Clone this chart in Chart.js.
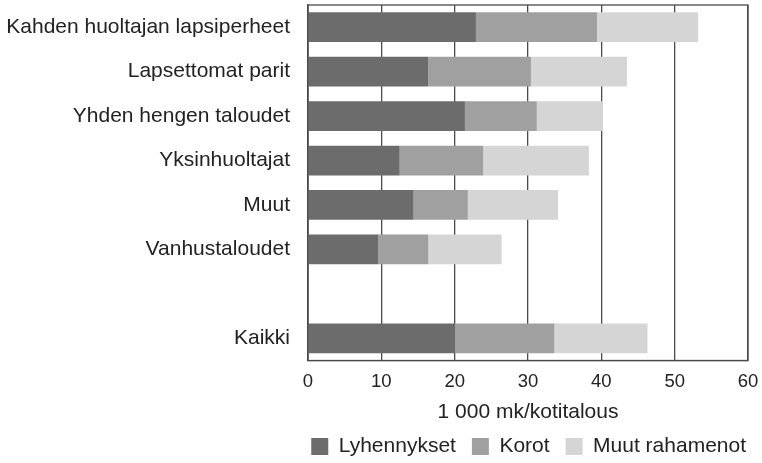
<!DOCTYPE html>
<html>
<head>
<meta charset="utf-8">
<style>
  html, body { margin: 0; padding: 0; background: #ffffff; }
  #wrap { width: 762px; height: 463px; }
</style>
<script src="https://cdn.jsdelivr.net/npm/chart.js@4/dist/chart.umd.min.js"></script>
</head>
<body>
<div id="wrap"><canvas id="c" width="762" height="463"></canvas></div>
<script>
const categories = ["Kahden huoltajan lapsiperheet", "Lapsettomat parit", "Yhden hengen taloudet", "Yksinhuoltajat", "Muut", "Vanhustaloudet", "", "Kaikki"];
const lyhennykset = [22.9, 16.4, 21.4, 12.5, 14.4, 9.6, null, 20.0];
const korot = [16.5, 14.0, 9.8, 11.4, 7.4, 6.8, null, 13.6];
const muutRahamenot = [13.8, 13.1, 9.0, 14.4, 12.3, 10.0, null, 12.7];
const seriesNames = ["Lyhennykset", "Korot", "Muut rahamenot"];
const xTicks = [0, 10, 20, 30, 40, 50, 60];
const axisTitle = "1 000 mk/kotitalous";

const FONT = "'Liberation Sans', Arial, Helvetica, sans-serif";
const TEXT = "#222222";
const GRID = "#4a4a4a";

const frame = {
  id: "frame",
  afterDatasetsDraw(chart) {
    const a = chart.chartArea, ctx = chart.ctx;
    ctx.save();
    ctx.strokeStyle = GRID;
    ctx.lineWidth = 1.3;
    ctx.strokeRect(a.left, a.top, a.right - a.left, a.bottom - a.top);
    ctx.restore();
  }
};

new Chart(document.getElementById("c"), {
  type: "bar",
  data: {
    labels: categories,
    datasets: [
      { label: seriesNames[0], data: lyhennykset, backgroundColor: "#6c6c6c" },
      { label: seriesNames[1], data: korot, backgroundColor: "#a0a0a0" },
      { label: seriesNames[2], data: muutRahamenot, backgroundColor: "#d5d5d5" }
    ]
  },
  options: {
    indexAxis: "y",
    responsive: false,
    animation: false,
    devicePixelRatio: 1,
    categoryPercentage: 1,
    barPercentage: 0.67,
    layout: { padding: { top: 5, right: 0, left: 0, bottom: -4 } },
    scales: {
      x: {
        stacked: true,
        min: 0, max: 60,
        afterBuildTicks(axis) { axis.ticks = xTicks.map(v => ({ value: v })); },
        afterFit(axis) { axis.height = 59.5; axis.paddingLeft = 0; axis.paddingRight = 14; },
        grid: { display: true, color: GRID, lineWidth: 1.3, drawTicks: false },
        border: { display: true, color: GRID, width: 1.3 },
        ticks: { padding: 10, color: TEXT, font: { family: FONT, size: 18.5 } },
        title: { display: true, text: axisTitle, color: TEXT, font: { family: FONT, size: 21 }, padding: { top: 0, bottom: -5 } }
      },
      y: {
        stacked: true,
        grid: { display: false },
        border: { display: true, color: GRID, width: 1.3 },
        ticks: { padding: 10, color: TEXT, font: { family: FONT, size: 21 }, autoSkip: false },
        afterFit(axis) { axis.width = 308; axis.paddingTop = 0; axis.paddingBottom = 0; }
      }
    },
    plugins: {
      legend: {
        position: "bottom",
        align: "end",
        labels: { boxWidth: 17, boxHeight: 17, padding: 16, color: TEXT, font: { family: FONT, size: 21 } }
      },
      tooltip: { enabled: false }
    }
  },
  plugins: [frame]
});
</script>
</body>
</html>
